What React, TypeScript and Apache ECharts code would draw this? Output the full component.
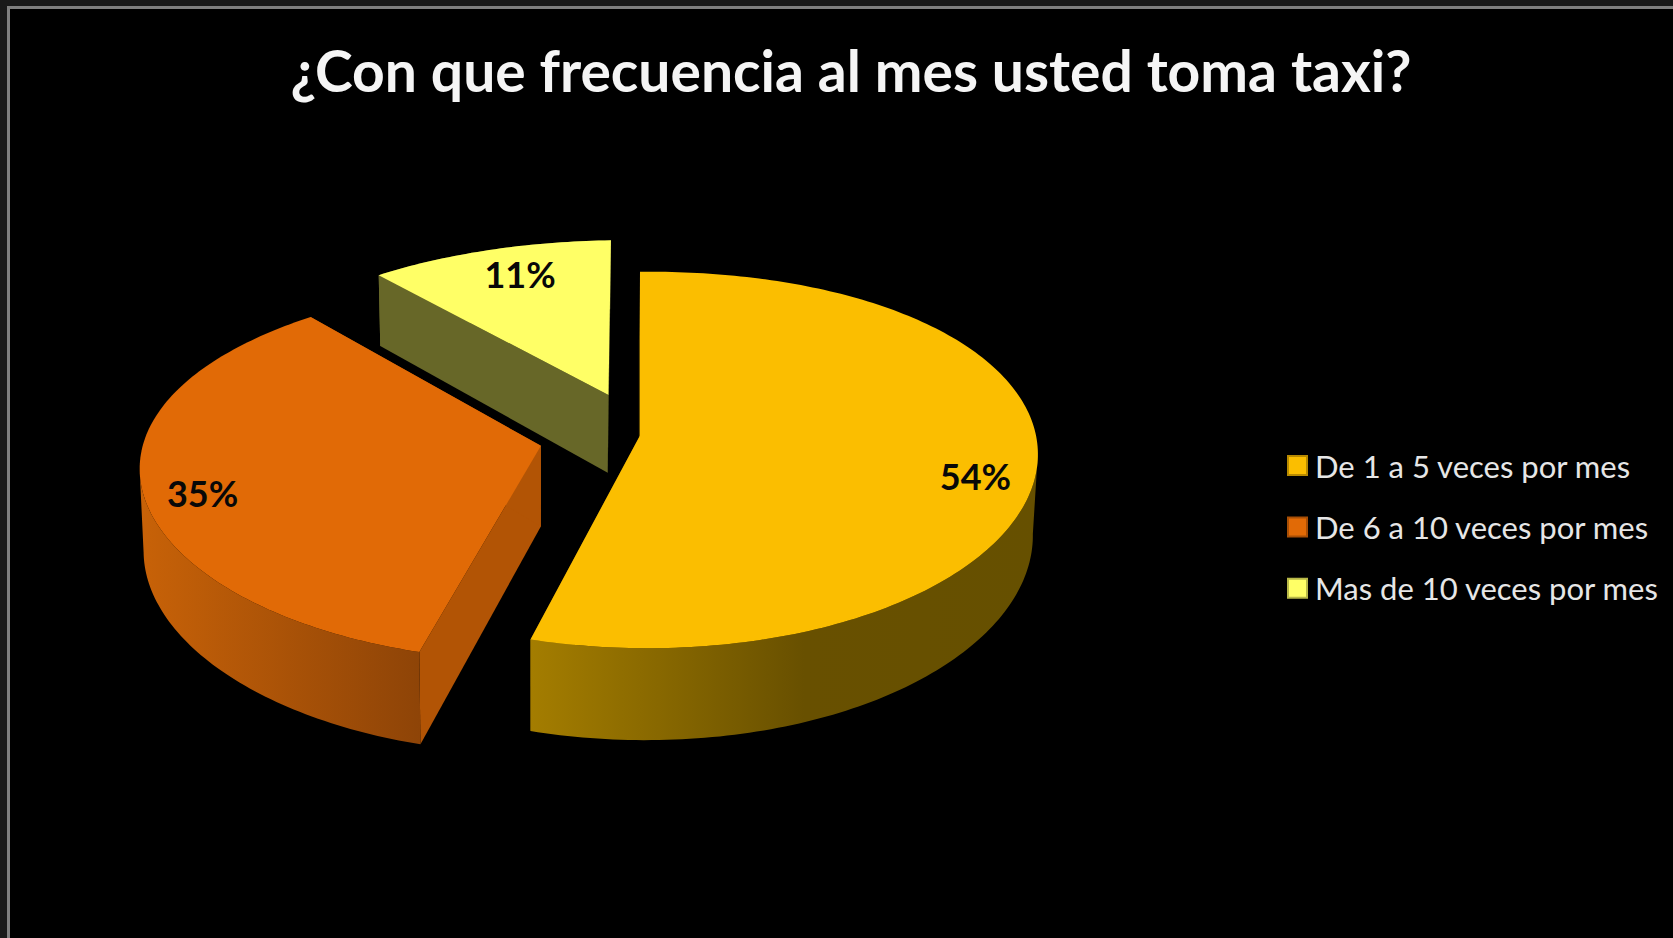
import React, { useEffect, useRef } from "react";
import * as echarts from "echarts";

const titleText = "¿Con que frecuencia al mes usted toma taxi?";
const categories = ["De 1 a 5 veces por mes", "De 6 a 10 veces por mes", "Mas de 10 veces por mes"];
const percentages = [54, 35, 11];

const topColors = ["#FBBE00", "#E16A06", "#FFFF66"];
const legendBorders = ["#B88A00", "#A84E05", "#B8B848"];
const radialColors = ["#6A5000", "#B25405", "#676728"];
const rimStops = [
  [[0, "#A47D00"], [0.54, "#685000"], [1, "#665000"]],
  [[0, "#C86208"], [1, "#8E4407"]],
  [[0, "#676728"], [1, "#676728"]],
];
const labelNudges = [[-2, 20], [0, 13], [14, 4]];
const explodes = [0, 0.255, 0.24];

const CX = 640;
const CY = 435.5;
const RX = 396;
const RY = 185;
const PERSP = 0.13;
const SKEW_X = 13;
const SKEW_Y = 4;
const DEPTH = 80;
const VANISH_X = 533;
const BOTTOM_SCALE = 0.99;
const LABEL_RADIUS = 0.85;

const total = percentages.reduce((a, b) => a + b, 0);
const startAngles = percentages.map((_, i) => (percentages.slice(0, i).reduce((a, b) => a + b, 0) / total) * 2 * Math.PI);

function project(X: number, Y: number, bottom: boolean): number[] {
  const s = 1 / (1 - PERSP * Y);
  let x = CX + RX * X * s - SKEW_X * X * Y;
  let y = CY + RY * Y * s + SKEW_Y * X * Y;
  if (bottom) {
    y += DEPTH * s;
    x = VANISH_X + (x - VANISH_X) * BOTTOM_SCALE;
  }
  return [x, y];
}

function makeRender(i: number) {
  return (_params: any, api: any) => {
    const value = api.value(0);
    const a0 = startAngles[i];
    const a1 = a0 + (value / total) * 2 * Math.PI;
    const mid = (a0 + a1) / 2;
    const ex = Math.sin(mid) * explodes[i];
    const ey = -Math.cos(mid) * explodes[i];
    const steps = Math.max(8, Math.round(((a1 - a0) * 180) / Math.PI));
    const rim = (bottom: boolean) => {
      const pts: number[][] = [];
      for (let j = 0; j <= steps; j++) {
        const a = a0 + ((a1 - a0) * j) / steps;
        pts.push(project(ex + Math.sin(a), ey - Math.cos(a), bottom));
      }
      return pts;
    };
    const topRim = rim(false);
    const botRim = rim(true);
    const apexTop = project(ex, ey, false);
    const apexBot = project(ex, ey, true);
    const lab = project(ex + Math.sin(mid) * LABEL_RADIUS, ey - Math.cos(mid) * LABEL_RADIUS, false);
    // The outer wall runs between the rim's horizontal extremes, so its silhouette stays straight.
    let iMin = 0;
    let iMax = 0;
    topRim.forEach((p, j) => {
      if (p[0] < topRim[iMin][0]) iMin = j;
      if (p[0] > topRim[iMax][0]) iMax = j;
    });
    const from = Math.min(iMin, iMax);
    const to = Math.max(iMin, iMax);
    const gradient = new echarts.graphic.LinearGradient(
      0, 0, 1, 0,
      rimStops[i].map((st: any) => ({ offset: st[0], color: st[1] }))
    );
    return {
      type: "group",
      children: [
        {
          type: "polygon",
          shape: { points: [apexTop, topRim[0], botRim[0], apexBot] },
          style: { fill: radialColors[i] },
        },
        {
          type: "polygon",
          shape: { points: [apexTop, topRim[steps], botRim[steps], apexBot] },
          style: { fill: radialColors[i] },
        },
        {
          type: "polygon",
          shape: { points: [...topRim.slice(from, to + 1), ...botRim.slice(from, to + 1).reverse()] },
          style: { fill: gradient },
        },
        {
          type: "polygon",
          shape: { points: [apexTop, ...topRim] },
          style: { fill: topColors[i] },
        },
        {
          type: "text",
          x: lab[0] + labelNudges[i][0],
          y: lab[1] + labelNudges[i][1],
          style: {
            text: value + "%",
            fill: "#080808",
            font: "bold 36px Lato",
            align: "center",
            verticalAlign: "middle",
          },
        },
      ],
    };
  };
}

export default function App() {
  const ref = useRef<HTMLDivElement>(null);
  useEffect(() => {
    const chart = echarts.init(ref.current!, null, { renderer: "svg" });
    chart.setOption({
      animation: false,
      backgroundColor: "#1A1A1A",
      title: {
        text: titleText,
        left: 846,
        top: 36,
        textAlign: "center",
        textStyle: { color: "#F5F5F5", fontFamily: "Lato", fontWeight: "bold", fontSize: 57 },
      },
      legend: {
        orient: "vertical",
        left: 1282,
        top: 445,
        itemWidth: 19,
        itemHeight: 19,
        itemGap: 30.4,
        icon: "rect",
        selectedMode: false,
        data: categories,
        textStyle: { color: "#E6E6E6", fontFamily: "Lato", fontSize: 31, padding: [0, 0, 0, 3], lineHeight: 19 },
      },
      graphic: [
        {
          type: "rect",
          z: -10,
          shape: { x: 8.5, y: 7.5, width: 1800, height: 1100 },
          style: { fill: "#000000", stroke: "#808080", lineWidth: 3 },
        },
      ],
      series: categories.map((name, i) => ({
        type: "custom",
        name,
        coordinateSystem: "none",
        itemStyle: { color: topColors[i], borderColor: legendBorders[i], borderWidth: 1 },
        renderItem: makeRender(i),
        data: [[percentages[i]]],
        z: 2 + (i === 2 ? 0 : i + 1),
      })),
    });
    return () => chart.dispose();
  }, []);
  return <div ref={ref} style={{ position: "absolute", left: 0, top: 0, width: 1673, height: 938 }} />;
}
